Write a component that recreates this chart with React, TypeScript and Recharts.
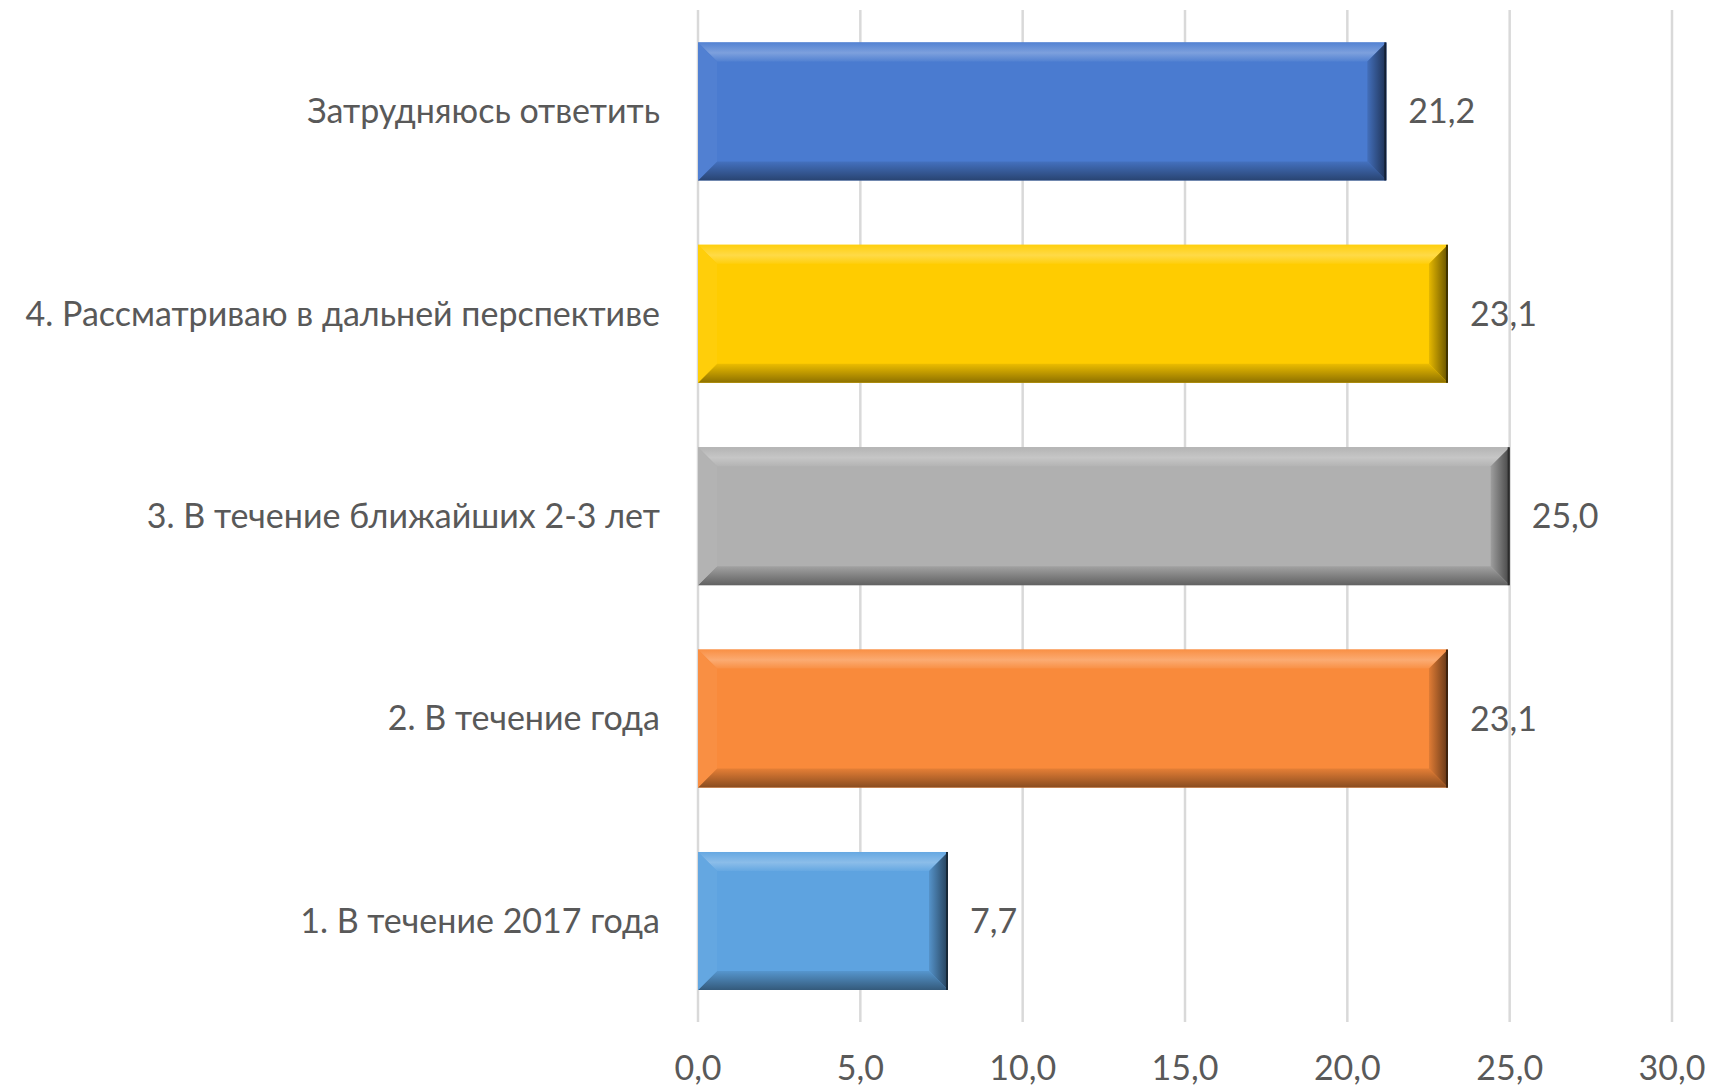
import React from "react";
import { BarChart, Bar, XAxis, YAxis, CartesianGrid, Cell, LabelList } from "recharts";

const categories = [
  "Затрудняюсь ответить",
  "4. Рассматриваю в дальней перспективе",
  "3. В течение ближайших 2-3 лет",
  "2. В течение года",
  "1. В течение 2017 года",
];
const values = [21.2, 23.1, 25.0, 23.1, 7.7];
const xTicks = [0, 5, 10, 15, 20, 25, 30];

const palette = ["#4a7bd0", "#ffcc00", "#b0b0b0", "#f98a3b", "#5ea3e0"];

const data = categories.map((name, i) => ({ name, value: values[i] }));

const FONT = "Lato, 'Open Sans', sans-serif";
const TEXT = "#595959";

const fmt = (v: number) => v.toFixed(1).replace(".", ",");

function shade(hex: string, amt: number) {
  const n = parseInt(hex.slice(1), 16);
  const ch = [(n >> 16) & 255, (n >> 8) & 255, n & 255].map((c) =>
    Math.round(amt >= 0 ? c + (255 - c) * amt : c * (1 + amt))
  );
  return `rgb(${ch[0]},${ch[1]},${ch[2]})`;
}

// bevelled bar, roughly like the Office "angle" effect
function BevelBar(props: any) {
  const { x, y, width, height, fill, index } = props;
  if (!width || width <= 0) return null;
  const b = Math.min(19, width / 2, height / 2);
  const x2 = x + width;
  const y2 = y + height;
  const gid = `bev-top-${index}`;
  const gidB = `bev-bot-${index}`;
  const gidR = `bev-right-${index}`;
  return (
    <g>
      <defs>
        <linearGradient id={gid} x1="0" y1="0" x2="0" y2="1">
          <stop offset="0%" stopColor={shade(fill, 0.05)} />
          <stop offset="55%" stopColor={shade(fill, 0.28)} />
          <stop offset="100%" stopColor={shade(fill, 0.05)} />
        </linearGradient>
        <linearGradient id={gidB} x1="0" y1="0" x2="0" y2="1">
          <stop offset="0%" stopColor={shade(fill, -0.08)} />
          <stop offset="100%" stopColor={shade(fill, -0.45)} />
        </linearGradient>
        <linearGradient id={gidR} x1="0" y1="0" x2="1" y2="0">
          <stop offset="0%" stopColor={shade(fill, -0.1)} />
          <stop offset="100%" stopColor={shade(fill, -0.6)} />
        </linearGradient>
      </defs>
      <rect x={x} y={y} width={width} height={height} fill={fill} />
      <polygon
        points={`${x},${y} ${x2},${y} ${x2 - b},${y + b} ${x + b},${y + b}`}
        fill={`url(#${gid})`}
      />
      <polygon
        points={`${x},${y2} ${x2},${y2} ${x2 - b},${y2 - b} ${x + b},${y2 - b}`}
        fill={`url(#${gidB})`}
      />
      <polygon
        points={`${x},${y} ${x + b},${y + b} ${x + b},${y2 - b} ${x},${y2}`}
        fill={shade(fill, 0.04)}
      />
      <polygon
        points={`${x2},${y} ${x2 - b},${y + b} ${x2 - b},${y2 - b} ${x2},${y2}`}
        fill={`url(#${gidR})`}
      />
      <rect x={x2 - 2} y={y} width={2} height={height} fill={shade(fill, -0.75)} />
    </g>
  );
}

export default function App() {
  return (
    <div style={{ position: "absolute", left: 0, top: 0, width: 1713, height: 1089, background: "#fff" }}>
      <BarChart
        width={1713}
        height={1089}
        data={data}
        layout="vertical"
        margin={{ top: 10, right: 41, bottom: 0, left: 0 }}
        barCategoryGap="16%"
      >
        <CartesianGrid horizontal={false} stroke="#d9d9d9" strokeWidth={2.5} />
        <XAxis
          type="number"
          domain={[0, 30]}
          ticks={xTicks}
          tickFormatter={fmt}
          axisLine={false}
          tickLine={false}
          height={67}
          tickMargin={28}
          interval={0}
          tick={{ fill: TEXT, fontSize: 34, fontFamily: FONT }}
        />
        <YAxis
          type="category"
          dataKey="name"
          width={698}
          axisLine={false}
          tickLine={false}
          tickMargin={32}
          interval={0}
          tick={{ fill: TEXT, fontSize: 34, fontFamily: FONT }}
        />
        <Bar dataKey="value" isAnimationActive={false} shape={<BevelBar />}>
          {data.map((_, i) => (
            <Cell key={i} fill={palette[i]} />
          ))}
          <LabelList
            dataKey="value"
            position="right"
            offset={22}
            formatter={(v: any) => fmt(Number(v))}
            style={{ fill: TEXT, fontSize: 34, fontFamily: FONT }}
          />
        </Bar>
      </BarChart>
    </div>
  );
}
